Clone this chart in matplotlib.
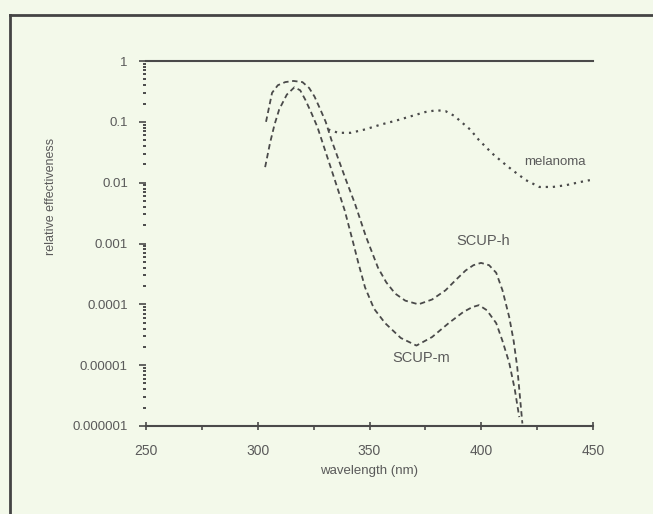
import matplotlib
matplotlib.use("Agg")
import matplotlib.pyplot as plt
from matplotlib.lines import Line2D

# data
wl_h = [303.7, 306.4, 309, 312.3, 316, 320, 323, 325.4, 328, 330.4, 333, 335.8, 339.5, 343.5,
        348.4, 353.8, 357.5, 361.5, 366, 371.9, 378, 384, 389, 393, 396.5, 399.9, 403.5,
        406.7, 409.5, 412.5, 414.5, 416.1, 418.4]
scup_h = [0.1, 0.3, 0.4, 0.45, 0.47, 0.45, 0.36, 0.26, 0.16, 0.1, 0.05, 0.026, 0.011, 0.0045,
          0.0013, 4.0e-4, 2.3e-4, 1.5e-4, 1.15e-4, 1.0e-4, 1.2e-4, 1.7e-4, 2.6e-4, 3.6e-4,
          4.4e-4, 4.8e-4, 4.4e-4, 3.3e-4, 1.7e-4, 6.2e-5, 2.5e-5, 9.3e-6, 1.1e-6]

wl_m = [303.3, 305.5, 307.5, 309.6, 313, 316.4, 319, 321.3, 324, 326.7, 329.5, 332.6, 335.5,
        338.9, 342.5, 345, 348, 352, 357, 364, 371, 378, 385.4, 392, 396, 399, 402.5, 406.7,
        409.5, 412.5, 415, 417]
scup_m = [0.018, 0.045, 0.09, 0.16, 0.28, 0.37, 0.33, 0.23, 0.14, 0.082, 0.04, 0.018, 0.0085,
          0.0035, 0.0011, 4.8e-4, 1.9e-4, 8.5e-5, 4.9e-5, 2.8e-5, 2.1e-5, 2.9e-5, 4.9e-5, 7.5e-5,
          9e-5, 9.7e-5, 8e-5, 4.9e-5, 2.5e-5, 1.1e-5, 4e-6, 1.4e-6]

wl_mel = [331.5, 336, 341.6, 348, 355, 362, 369, 375, 380, 384, 388, 391, 395, 399, 405, 410,
          414, 420, 426, 432, 438, 444, 448.6]
melanoma = [0.075, 0.066, 0.066, 0.075, 0.09, 0.105, 0.125, 0.145, 0.155, 0.15, 0.125, 0.1,
            0.075, 0.05, 0.03, 0.021, 0.016, 0.011, 0.0085, 0.0085, 0.0091, 0.0102, 0.011]

x_ticks = [250, 300, 350, 400, 450]
y_ticks = [1, 0.1, 0.01, 0.001, 0.0001, 0.00001, 0.000001]
y_labels = ["1", "0.1", "0.01", "0.001", "0.0001", "0.00001", "0.000001"]

bg = "#f3f9ea"
ink = "#4a4a4a"
txt = "#5a5a5a"
plt.rcParams['font.family'] = ['Liberation Sans', 'DejaVu Sans']

fig = plt.figure(figsize=(6.53, 5.14), dpi=100, facecolor=bg)
ax = fig.add_axes([146/653, 1-426/514, 447/653, 365/514])
ax.set_facecolor(bg)

ax.plot(wl_h, scup_h, color=ink, lw=1.3, dashes=(3, 2))
ax.plot(wl_m, scup_m, color=ink, lw=1.3, dashes=(3, 2))
ax.plot(wl_mel, melanoma, color=ink, lw=1.6, dashes=(1, 2.2))

ax.set_yscale('log')
ax.set_xlim(250, 450)
ax.set_ylim(1e-6, 1)
ax.set_xticks(x_ticks)
ax.set_xticks([275, 325, 375, 425], minor=True)
ax.set_yticks(y_ticks)
ax.set_yticklabels(y_labels)
ax.yaxis.set_minor_locator(matplotlib.ticker.LogLocator(base=10, subs=range(2, 10)))
ax.yaxis.set_minor_formatter(matplotlib.ticker.NullFormatter())

for s in ['right', 'left']:
    ax.spines[s].set_visible(False)
for s in ['top', 'bottom']:
    ax.spines[s].set_color(ink)
    ax.spines[s].set_linewidth(1.5)

ax.tick_params(axis='x', which='major', direction='inout', length=6, width=1.2, color=ink,
               labelsize=10, labelcolor=txt, pad=10)
ax.tick_params(axis='x', which='minor', direction='out', length=3, width=1.2, color=ink)
ax.tick_params(axis='y', which='major', direction='out', length=5, width=1.2, color=ink,
               labelsize=9.5, labelcolor=txt, pad=8)
ax.tick_params(axis='y', which='minor', direction='out', length=2, width=1.4, color=ink)

ax.set_xlabel("wavelength (nm)", fontsize=9.5, color=txt, labelpad=5)
ax.set_ylabel("relative effectiveness", fontsize=9, color=txt)
ax.yaxis.set_label_coords(-0.2, 0.63)

ax.text(401, 1.1e-3, "SCUP-h", fontsize=10.5, color=txt, ha='center', va='center')
ax.text(373, 1.3e-5, "SCUP-m", fontsize=10.5, color=txt, ha='center', va='center')
ax.text(433, 0.022, "melanoma", fontsize=9.5, color=txt, ha='center', va='center')

# outer frame of the scanned figure
fig.add_artist(Line2D([10/653, 10/653], [0, 1-15/514], color='#444444', lw=2,
                      transform=fig.transFigure))
fig.add_artist(Line2D([10/653, 1], [1-15/514, 1-15/514], color='#444444', lw=2,
                      transform=fig.transFigure))

fig.savefig("out.png", dpi=100, facecolor=bg)
